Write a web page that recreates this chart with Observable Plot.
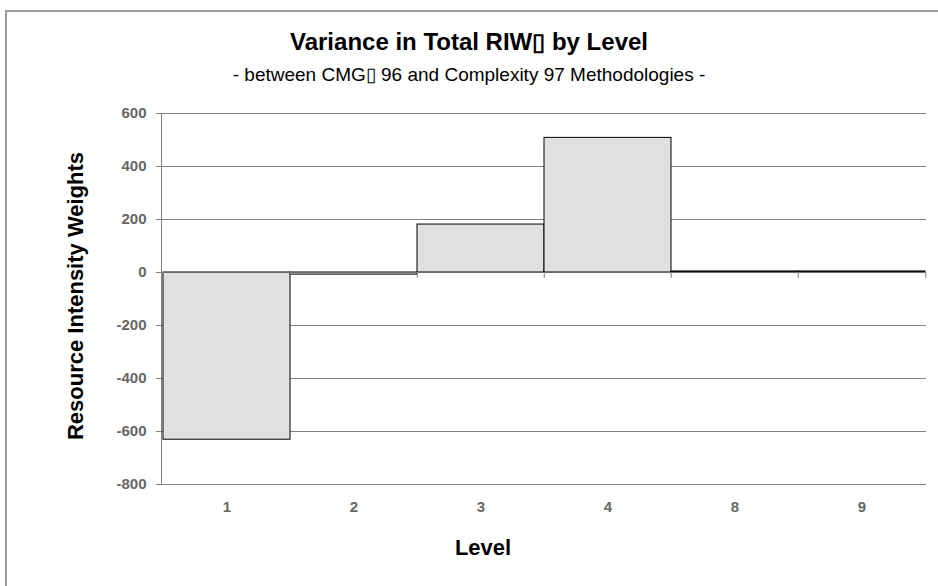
<!DOCTYPE html>
<html>
<head>
<meta charset="utf-8">
<script src="https://cdn.jsdelivr.net/npm/d3@7"></script>
<script src="https://cdn.jsdelivr.net/npm/@observablehq/plot@0.6"></script>
<style>
  body { margin: 0; background: #fff; }
  #page { position: relative; width: 938px; height: 586px; overflow: hidden; }
  #border { position: absolute; left: 5px; top: 10px; width: 1200px; height: 1200px;
            border-left: 2px solid #9c9c9c; border-top: 2px solid #9c9c9c; }
  .head { position: absolute; left: 0; width: 938px; text-align: center;
          font-family: "Liberation Sans", Arial, sans-serif; color: #000; white-space: nowrap; }
  #title { top: 28px; font-size: 24px; font-weight: bold; }
  #subtitle { top: 63px; font-size: 19px; }
  #chart { position: absolute; left: 0; top: 95px; }
  #chart svg { font-family: "Liberation Sans", Arial, sans-serif; }
  #chart g[aria-label="y-axis tick label"] text { font-weight: bold; }
  #chart g[aria-label="x-axis tick label"] text { font-weight: bold; font-family: "Liberation Sans Narrow", "Liberation Sans", sans-serif; }
</style>
</head>
<body>
<div id="page">
  <div id="border"></div>
  <div id="title" class="head">Variance in Total RIW▯ by Level</div>
  <div id="subtitle" class="head">- between CMG▯ 96 and Complexity 97 Methodologies -</div>
  <div id="chart"></div>
</div>
<script>
// Levels and the variance in total RIW for each
const levels = ["1", "2", "3", "4", "8", "9"];
const variance = [-631, -8, 181, 508, 4, 4];
const yTicks = [-800, -600, -400, -200, 0, 200, 400, 600];

const data = levels.map((level, i) => ({level, value: variance[i]}));

const width = 938;
const marginLeft = 161;
const marginRight = 12;
const step = (width - marginLeft - marginRight) / levels.length;

const plot = Plot.plot({
  width,
  height: 491,
  marginLeft,
  marginRight,
  marginTop: 18,
  marginBottom: 102,
  x: {type: "band", domain: levels, padding: 0, label: null},
  y: {domain: [-800, 600], label: null},
  marks: [
    Plot.gridY(yTicks, {stroke: "#808080", strokeOpacity: 1}),
    Plot.barY(data, {x: "level", y: "value", fill: "#e0e0e0", stroke: "#000", strokeWidth: 1}),
    Plot.ruleY([0], {stroke: "#6a6a6a"}),
    // category separators on the zero axis
    Plot.ruleX(levels, {x: d => d, y1: 0, y2: -22, dx: -step / 2, stroke: "#808080"}),
    Plot.ruleX(levels.slice(-1), {x: d => d, y1: 0, y2: -22, dx: step / 2, stroke: "#808080"}),
    Plot.frame({anchor: "left", stroke: "#808080"}),
    Plot.axisY(yTicks, {tickSize: 5, tickPadding: 10, stroke: "#808080", fill: "#666", fontSize: 15, tickFormat: d => String(d), label: null}),
    Plot.axisX({tickSize: 0, tickPadding: 17, fill: "#666", fontSize: 15, label: null}),
    Plot.text(["Resource Intensity Weights"], {frameAnchor: "left", textAnchor: "middle", rotate: -90, dx: -86, dy: -3, fontWeight: "bold", fontSize: 22, fill: "#000"}),
    Plot.text(["Level"], {frameAnchor: "bottom", textAnchor: "middle", dx: -61, dy: 70, fontWeight: "bold", fontSize: 22, fill: "#000"})
  ]
});

document.getElementById("chart").appendChild(plot);
</script>
</body>
</html>
